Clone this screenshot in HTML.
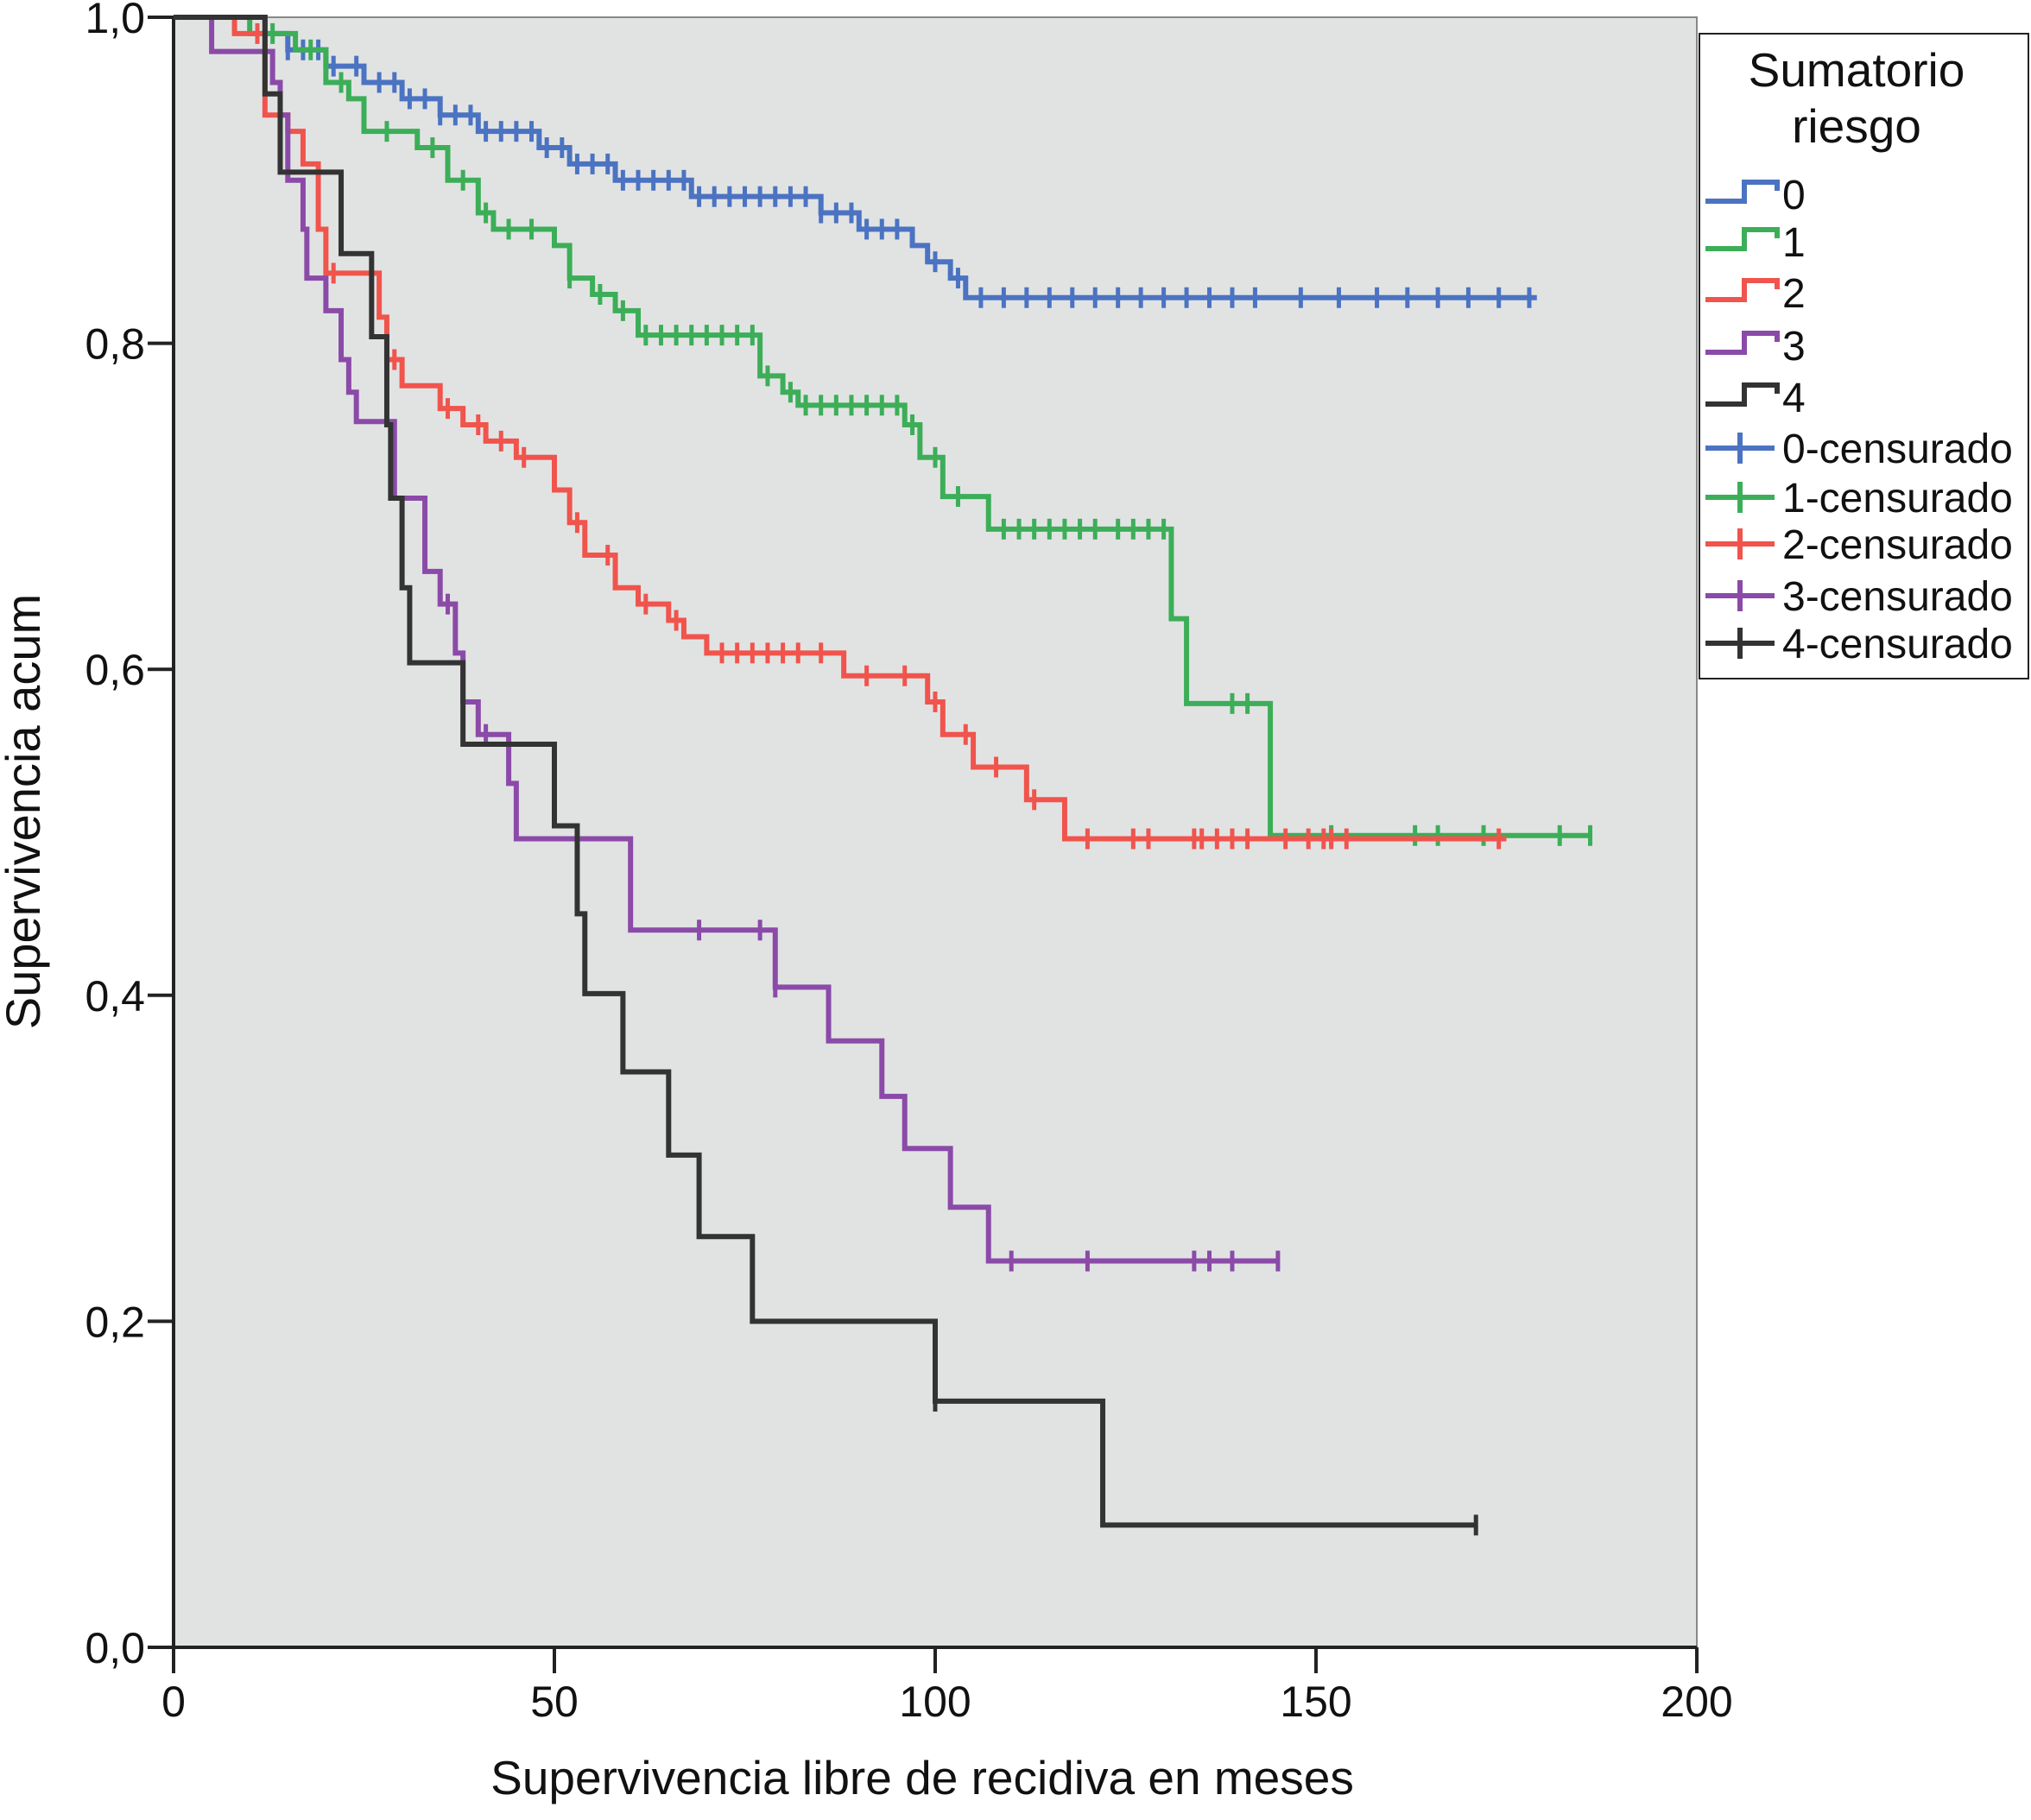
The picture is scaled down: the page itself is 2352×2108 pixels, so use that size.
<!DOCTYPE html>
<html><head><meta charset="utf-8">
<style>
html,body{margin:0;padding:0;background:#fff;}
svg{display:block;font-family:"Liberation Sans",sans-serif;}
</style></head>
<body>
<svg id="chart" width="2352" height="2108" viewBox="0 0 2352 2108" xmlns="http://www.w3.org/2000/svg">
<rect x="201" y="20" width="1764" height="1888" fill="#e1e3e3" stroke="#888" stroke-width="2"/>
<g id="axes"></g>
<g id="series"></g>
<text x="1068" y="2078" font-size="55" text-anchor="middle" fill="#111">Supervivencia libre de recidiva en meses</text>
<text transform="translate(46,940) rotate(-90)" font-size="56" text-anchor="middle" fill="#111">Supervivencia acum</text>
<g>
<rect x="1968" y="39" width="381" height="747" fill="#fff" stroke="#222" stroke-width="2"/>
<text x="2150" y="100" font-size="55" text-anchor="middle" fill="#111">Sumatorio</text>
<text x="2150" y="165" font-size="55" text-anchor="middle" fill="#111">riesgo</text>
<g id="legendItems"></g>
</g>
</svg>
<script>
const xTicks=[0,50,100,150,200];
const yTicks=[0,0.2,0.4,0.6,0.8,1.0];
const yTickLabels=["0,0","0,2","0,4","0,6","0,8","1,0"];
const seriesNames=["0","1","2","3","4"];
const seriesColors=["#4b73c2","#3cae58","#f0544c","#8b4aa8","#333333"];
// step data: [time, survival after drop]
const steps0=[[12,0.99],[15,0.98],[20,0.97],[25,0.96],[30,0.95],[35,0.94],[40,0.93],[48,0.92],[52,0.91],[58,0.90],[68,0.89],[85,0.88],[90,0.87],[97,0.86],[99,0.85],[102,0.84],[104,0.828]];
const steps1=[[10,0.99],[16,0.98],[20,0.96],[23,0.95],[25,0.93],[32,0.92],[36,0.90],[40,0.88],[42,0.87],[50,0.86],[52,0.84],[55,0.83],[58,0.82],[61,0.805],[77,0.78],[80,0.77],[82,0.762],[96,0.75],[98,0.73],[101,0.706],[107,0.686],[131,0.631],[133,0.579],[144,0.498]];
const steps2=[[8,0.99],[12,0.94],[15,0.93],[17,0.91],[19,0.87],[20,0.843],[27,0.816],[28,0.79],[30,0.774],[35,0.76],[38,0.75],[41,0.74],[45,0.73],[50,0.71],[52,0.69],[54,0.67],[58,0.65],[61,0.64],[65,0.63],[67,0.62],[70,0.61],[88,0.596],[99,0.58],[101,0.56],[105,0.54],[112,0.52],[117,0.496]];
const steps3=[[5,0.979],[13,0.96],[14,0.94],[15,0.90],[17,0.87],[17.5,0.84],[20,0.82],[22,0.79],[23,0.77],[24,0.752],[29,0.705],[33,0.66],[35,0.64],[37,0.61],[38,0.58],[40,0.56],[44,0.53],[45,0.496],[60,0.44],[79,0.405],[86,0.372],[93,0.338],[96,0.306],[102,0.27],[107,0.237]];
const steps4=[[12,0.953],[14,0.905],[22,0.855],[26,0.804],[28,0.75],[28.5,0.705],[30,0.65],[31,0.604],[38,0.554],[50,0.504],[53,0.45],[54,0.401],[59,0.353],[65,0.302],[69,0.252],[76,0.2],[100,0.151],[122,0.075]];
const ends=[179,186,175,145,171];
const cens0=[15,17,19,21,24,27,29,31,33,35,37,39,41,43,45,47,49,51,53,55,57,59,61,63,65,67,69,71,73,75,77,79,81,83,85,87,89,91,93,95,100,103,106,109,112,115,118,121,124,127,130,133,136,139,142,148,153,158,162,166,170,174,178];
const cens1=[13,18,22,28,34,38,41,44,47,52,56,59,62,64,66,68,70,72,74,76,78,81,83,85,87,89,91,93,95,97,100,103,109,111,113,115,117,119,121,124,126,128,130,139,141,152,163,166,172,182,186];
const cens2=[11,21,29,36,40,43,46,53,57,62,66,72,74,76,78,80,82,85,91,96,100,104,108,113,120,126,128,134,135,137,139,141,146,149,151,152,154,174];
const cens3=[36,41,69,77,79,110,120,134,136,139,145];
const cens4=[100,171];
const allSteps=[steps0,steps1,steps2,steps3,steps4];
const allCens=[cens0,cens1,cens2,cens3,cens4];

const L=201,R=1965,T=20,B=1908;
const xs=v=>L+(v/200)*(R-L);
const ys=v=>B-v*(B-T);
const NS="http://www.w3.org/2000/svg";
function mk(tag,attrs,parent){const e=document.createElementNS(NS,tag);for(const k in attrs)e.setAttribute(k,attrs[k]);parent.appendChild(e);return e;}
const axes=document.getElementById('axes');
const ya=mk('line',{x1:L,y1:T,x2:L,y2:B+30,stroke:'#222','stroke-width':4},axes);


const xa=mk('line',{x1:L-30,y1:B,x2:R,y2:B,stroke:'#222','stroke-width':4},axes);


xTicks.forEach(t=>{
  const l=mk('line',{x1:xs(t),y1:B,x2:xs(t),y2:B+30,stroke:'#222','stroke-width':4},axes);
  
  
  const tx=mk('text',{x:xs(t),y:B+80,'font-size':50,'text-anchor':'middle',fill:'#111'},axes);
  tx.textContent=t;
  
  
});
yTicks.forEach((t,i)=>{
  const l=mk('line',{x1:L-30,y1:ys(t),x2:L,y2:ys(t),stroke:'#222','stroke-width':4},axes);
  
  
  const tx=mk('text',{x:L-33,y:ys(t)+18,'font-size':50,'text-anchor':'end',fill:'#111'},axes);
  tx.textContent=yTickLabels[i];
  
  
});
function survAt(st,t){let s=1;for(const p of st){if(p[0]<=t)s=p[1];}return s;}
const sg=document.getElementById('series');
allSteps.forEach((st,i)=>{
  let d='M'+xs(0)+','+ys(1);
  st.forEach(p=>{d+=' H'+xs(p[0])+' V'+ys(p[1]);});
  d+=' H'+xs(ends[i]);
  const p=mk('path',{d:d,fill:'none',stroke:seriesColors[i],'stroke-width':6},sg);
  
  
  allCens[i].forEach(c=>{
    const y=ys(survAt(st,c));
    const m=mk('line',{x1:xs(c),y1:y-12,x2:xs(c),y2:y+12,stroke:seriesColors[i],'stroke-width':5},sg);
    
    
  });
});
const li=document.getElementById('legendItems');
const rowY=[225,280,339,400,460,519,576,630,690,745];
for(let i=0;i<10;i++){
  const c=seriesColors[i%5];const y=rowY[i];
  if(i<5){
    const p=mk('path',{d:`M1975,${y+8} H2020 V${y-14} H2058 V${y-4}`,fill:'none',stroke:c,'stroke-width':6},li);
    
    
  } else {
    const p=mk('path',{d:`M1975,${y} H2055 M2015,${y-18} V${y+18}`,fill:'none',stroke:c,'stroke-width':6},li);
    
    
  }
  const t=mk('text',{x:2064,y:y+17,'font-size':48,fill:'#111'},li);
  t.textContent=i<5?seriesNames[i]:seriesNames[i-5]+'-censurado';
  
  
}
</script>
</body></html>
